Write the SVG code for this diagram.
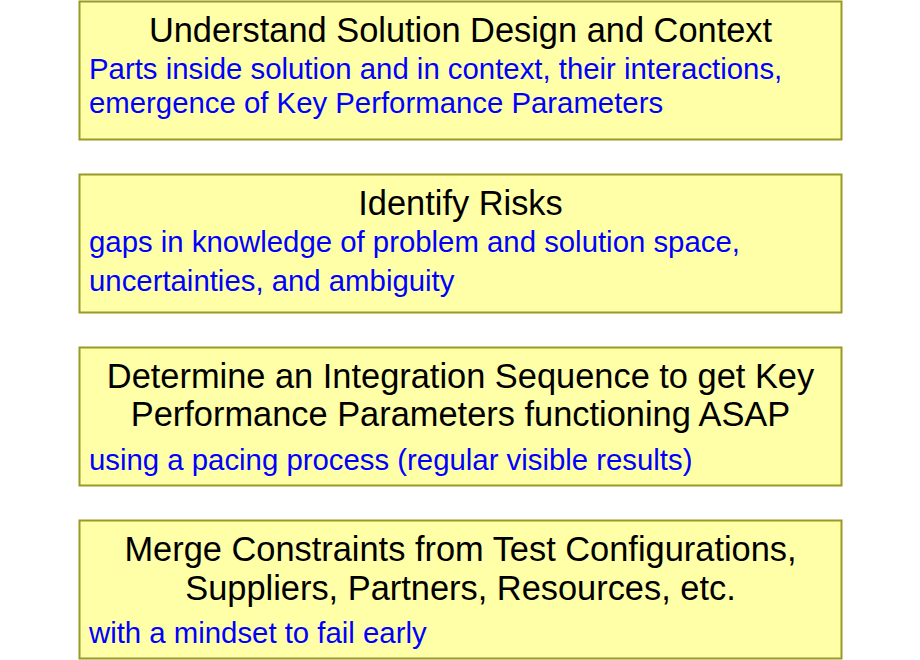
<svg xmlns="http://www.w3.org/2000/svg" width="920" height="660" viewBox="0 0 920 660">
<style>
.box{fill:#ffffa8;stroke:#999926;stroke-width:2}
.t{font-family:"Liberation Sans",Arial,sans-serif;font-size:34.4px;fill:#000;text-anchor:middle}
.s{font-family:"Liberation Sans",Arial,sans-serif;font-size:29.35px;fill:#0000ff}
</style>
<rect width="920" height="660" fill="#fff"/>
<g id="node1">
<rect class="box" x="79.5" y="1.5" width="762" height="138"/>
<text class="t" x="460.5" y="42">Understand Solution Design and Context</text>
<text class="s" x="89" y="79">Parts inside solution and in context, their interactions,</text>
<text class="s" x="89" y="113">emergence of Key Performance Parameters</text>
</g>
<g id="node2">
<rect class="box" x="79.5" y="174.5" width="762" height="138"/>
<text class="t" x="460.5" y="215">Identify Risks</text>
<text class="s" x="89" y="252">gaps in knowledge of problem and solution space,</text>
<text class="s" x="89" y="291">uncertainties, and ambiguity</text>
</g>
<g id="node3">
<rect class="box" x="79.5" y="347.5" width="762" height="138"/>
<text class="t" x="460.5" y="388">Determine an Integration Sequence to get Key</text>
<text class="t" x="460.5" y="426">Performance Parameters functioning ASAP</text>
<text class="s" x="89" y="470">using a pacing process (regular visible results)</text>
</g>
<g id="node4">
<rect class="box" x="79.5" y="520.5" width="762" height="138"/>
<text class="t" x="460.5" y="561">Merge Constraints from Test Configurations,</text>
<text class="t" x="460.5" y="600">Suppliers, Partners, Resources, etc.</text>
<text class="s" x="89" y="643">with a mindset to fail early</text>
</g>
<g id="connectors"/>
</svg>
